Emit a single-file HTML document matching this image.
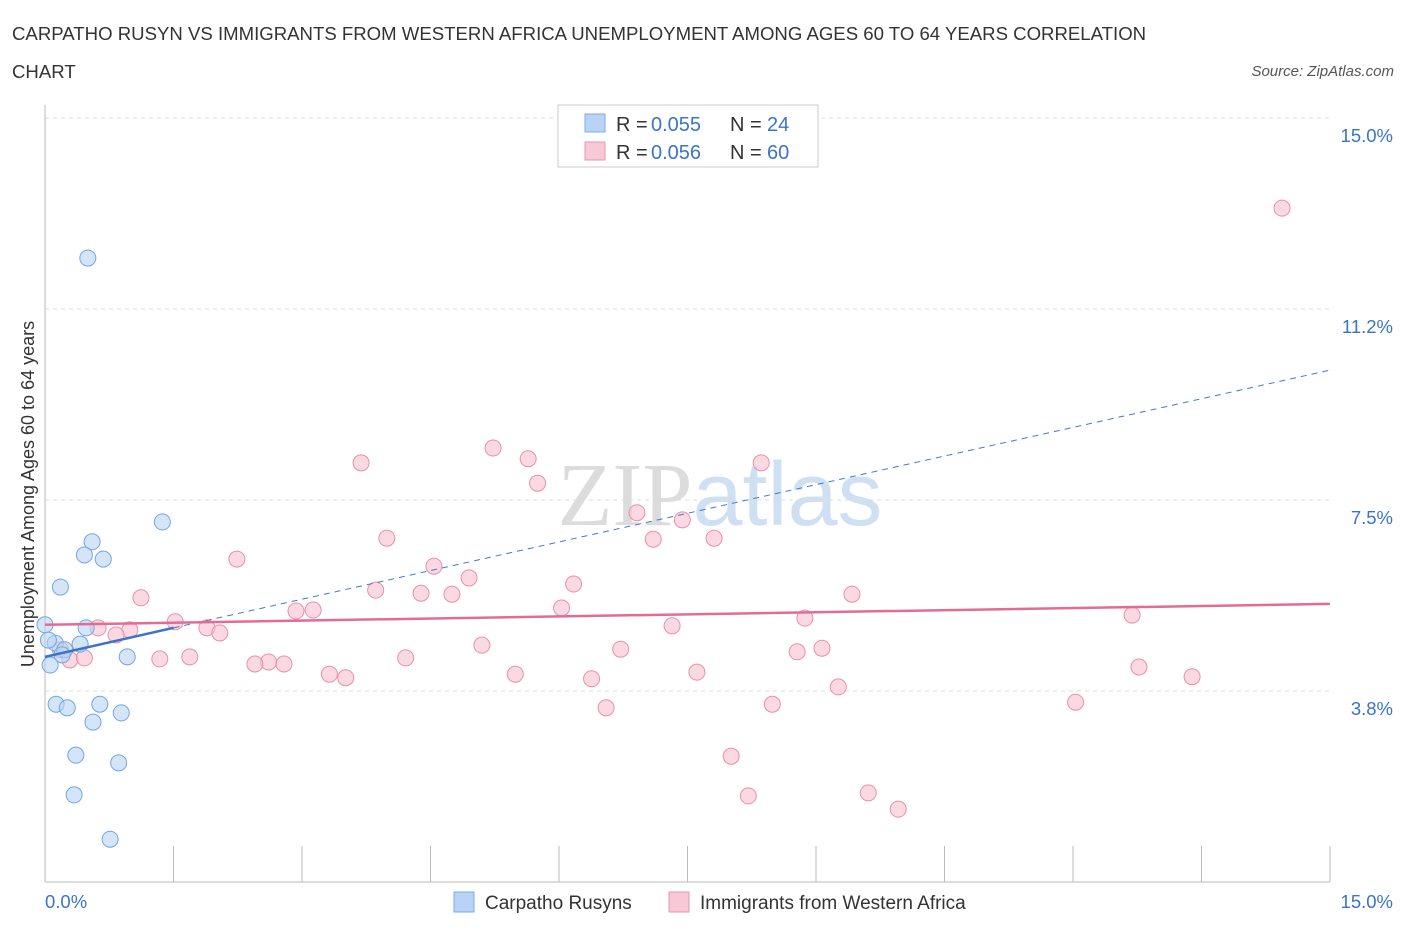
<!DOCTYPE html>
<html><head><meta charset="utf-8"><style>
body{margin:0;background:#fff;font-family:"Liberation Sans",sans-serif;}
svg text{font-family:"Liberation Sans",sans-serif;}
</style></head><body>
<svg id="chart" width="1406" height="930" xmlns="http://www.w3.org/2000/svg">
<text x="12" y="40" font-size="18.6" fill="#333">CARPATHO RUSYN VS IMMIGRANTS FROM WESTERN AFRICA UNEMPLOYMENT AMONG AGES 60 TO 64 YEARS CORRELATION</text>
<text x="12" y="78" font-size="18.6" fill="#333">CHART</text>
<text x="1394" y="76" font-size="15" fill="#555" font-style="italic" text-anchor="end">Source: ZipAtlas.com</text>
<text x="720" y="525" font-size="90" text-anchor="middle" fill="#e4e4e4"><tspan font-family="Liberation Serif" fill="#dcdcdc">ZIP</tspan><tspan fill="#cfe0f3">atlas</tspan></text>
<g id="grid"></g><g id="axes"></g><g id="marks"></g>
<text transform="translate(34,494) rotate(-90)" font-size="18" fill="#333" text-anchor="middle">Unemployment Among Ages 60 to 64 years</text>
<g>
<rect x="558" y="105" width="260" height="62" fill="#fff" stroke="#ccc"/>
<rect x="585" y="114" width="20" height="18" fill="#b9d3f4" stroke="#7aaee8"/>
<rect x="585" y="142" width="20" height="18" fill="#f8c8d7" stroke="#e994b0"/>
<text x="616" y="131" font-size="20" fill="#333">R = </text>
<text x="651" y="131" font-size="20" fill="#3a74c9">0.055</text>
<text x="730" y="131" font-size="20" fill="#333">N = </text>
<text x="767" y="131" font-size="20" fill="#3a74c9">24</text>
<text x="616" y="159" font-size="20" fill="#333">R = </text>
<text x="651" y="159" font-size="20" fill="#3a74c9">0.056</text>
<text x="730" y="159" font-size="20" fill="#333">N = </text>
<text x="767" y="159" font-size="20" fill="#3a74c9">60</text>
</g>
<g>
<rect x="454" y="892" width="20" height="20" fill="#b9d3f4" stroke="#7aaee8"/>
<text x="485" y="909" font-size="19" fill="#333">Carpatho Rusyns</text>
<rect x="669" y="892" width="20" height="20" fill="#f8c8d7" stroke="#e994b0"/>
<text x="700" y="909" font-size="19" fill="#333">Immigrants from Western Africa</text>
</g>
</svg>
<script>
const yTicks=[3.75,7.5,11.25,15];
const yTickLabels=["3.8%","7.5%","11.2%","15.0%"];
const blueX=[0.50,1.37,0.55,0.46,0.68,0.18,0.48,0.0,0.12,0.41,0.23,0.96,0.06,0.13,0.26,0.64,0.56,0.89,0.36,0.86,0.34,0.76,0.20,0.04];
const blueY=[12.25,7.07,6.68,6.42,6.34,5.79,4.99,5.05,4.69,4.67,4.56,4.42,4.26,3.49,3.42,3.49,3.14,3.32,2.49,2.34,1.71,0.84,4.46,4.75];
const pinkX=[14.44,5.23,5.64,3.69,8.36,5.75,6.91,7.44,2.24,3.99,7.10,7.81,4.54,4.95,6.17,3.86,4.39,4.75,9.42,1.12,6.03,2.93,3.13,8.87,12.69,1.52,7.32,1.89,0.62,0.99,2.04,0.83,5.10,6.72,9.07,8.78,0.18,0.29,0.46,1.34,1.69,4.21,2.61,2.45,2.79,12.77,7.61,3.32,3.51,5.49,6.38,13.39,9.26,6.55,8.49,12.03,8.01,8.21,9.61,9.96];
const pinkY=[13.23,8.52,8.31,8.23,8.23,7.83,7.25,7.11,6.34,6.75,6.73,6.75,6.20,5.97,5.85,5.73,5.67,5.65,5.65,5.58,5.38,5.32,5.34,5.18,5.24,5.11,5.03,4.99,4.99,4.95,4.89,4.85,4.65,4.57,4.59,4.52,4.56,4.36,4.40,4.38,4.42,4.40,4.32,4.28,4.28,4.22,4.12,4.08,4.01,4.08,3.99,4.03,3.83,3.42,3.49,3.53,2.47,1.69,1.75,1.43];
const blueTrend=[4.42,4.99,10.05];
const pinkTrend=[5.05,5.46];
const X0=45,X1=1330,Y0=882,PX=(X1-X0)/15,PY=191/3.75;
const sx=v=>X0+v*PX, sy=v=>Y0-v*PY;
const NS="http://www.w3.org/2000/svg";
function mk(tag,attrs,parent){const e=document.createElementNS(NS,tag);for(const k in attrs)e.setAttribute(k,attrs[k]);parent.appendChild(e);return e;}
const grid=document.getElementById('grid'),axes=document.getElementById('axes'),marks=document.getElementById('marks');
yTicks.forEach((t,i)=>{
 const l=mk('line',{x1:X0,x2:X1,y1:sy(t),y2:sy(t),stroke:'#ddd','stroke-dasharray':'4 4'},grid);
 
 
 const tx=mk('text',{x:1393,y:sy(t)+24,'font-size':18.5,fill:'#3a74c9','text-anchor':'end'},grid);
 tx.textContent=yTickLabels[i];
 
 
});
let a=mk('line',{x1:X0,x2:X0,y1:105,y2:Y0,stroke:'#bbb'},axes);

a=mk('line',{x1:X0,x2:X1,y1:Y0,y2:Y0,stroke:'#bbb'},axes);

for(let i=0;i<=10;i++){const t=mk('line',{x1:sx(i*1.5),x2:sx(i*1.5),y1:Y0,y2:Y0-36,stroke:'#bbb'},axes);
 }
let t=mk('text',{x:45,y:908,'font-size':18.5,fill:'#3a74c9'},axes);t.textContent='0.0%';

t=mk('text',{x:1393,y:908,'font-size':18.5,fill:'#3a74c9','text-anchor':'end'},axes);t.textContent='15.0%';

pinkX.forEach((x,i)=>{const c=mk('circle',{cx:sx(x),cy:sy(pinkY[i]),r:8,fill:'#f6bfd0','fill-opacity':0.6,stroke:'#e890ac','stroke-width':1},marks);
 });
blueX.forEach((x,i)=>{const c=mk('circle',{cx:sx(x),cy:sy(blueY[i]),r:8,fill:'#b8d3f4','fill-opacity':0.6,stroke:'#72a6e4','stroke-width':1},marks);
 });
let l=mk('line',{x1:sx(1.5),y1:sy(blueTrend[1]),x2:sx(15),y2:sy(blueTrend[2]),stroke:'#3f7bd0','stroke-width':1,'stroke-dasharray':'6 5'},marks);

l=mk('line',{x1:sx(0),y1:sy(blueTrend[0]),x2:sx(1.5),y2:sy(blueTrend[1]),stroke:'#3a74c9','stroke-width':2.5},marks);

l=mk('line',{x1:sx(0),y1:sy(pinkTrend[0]),x2:sx(15),y2:sy(pinkTrend[1]),stroke:'#e36b96','stroke-width':2.5},marks);

</script>
</body></html>
